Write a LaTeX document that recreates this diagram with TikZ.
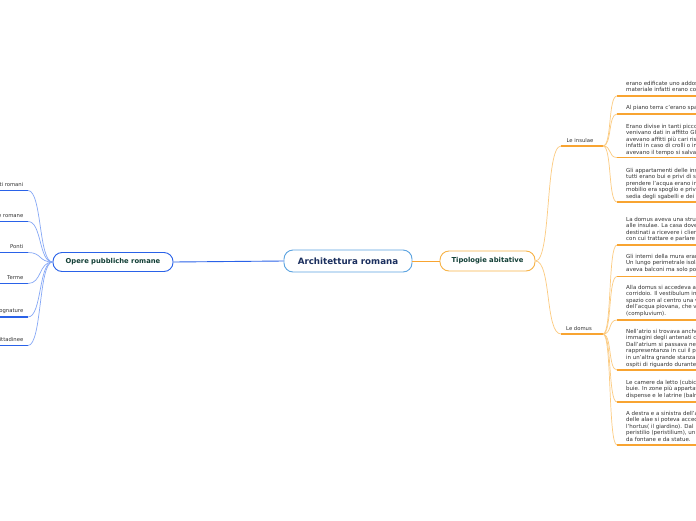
\documentclass[tikz,border=0pt]{standalone}
\usepackage{fontspec}
\setmainfont{DejaVu Sans}
\definecolor{cblue}{HTML}{5BA3E0}
\definecolor{navy}{HTML}{1B2F5E}
\definecolor{dgreen}{HTML}{123F36}
\definecolor{oblue}{HTML}{2A62E8}
\definecolor{lblue}{HTML}{86A8F6}
\definecolor{uorange}{HTML}{F8A431}
\definecolor{lorange}{HTML}{FCCB80}
\definecolor{borange}{HTML}{F7B347}
\definecolor{txt}{HTML}{333333}
\tikzset{
  cnode/.style={draw=cblue, line width=0.9pt, rounded corners=9pt, fill=white,
    minimum width=128pt, minimum height=22pt, inner sep=0pt,
    font=\fontsize{8.7}{9}\selectfont\bfseries, text=navy},
  bnode/.style={draw=oblue, line width=0.9pt, rounded corners=9pt, fill=white,
    minimum width=120pt, minimum height=19pt, inner sep=0pt,
    font=\fontsize{6.8}{7}\selectfont\bfseries, text=dgreen},
  onode/.style={draw=borange, line width=0.9pt, rounded corners=9pt, fill=white,
    minimum width=95pt, minimum height=20pt, inner sep=0pt,
    font=\fontsize{6.8}{7}\selectfont\bfseries, text=dgreen},
  lbl/.style={inner sep=0pt, font=\fontsize{5.3}{6}\selectfont, text=txt},
  blk/.style={inner sep=0pt, anchor=north west, align=left,
    font=\fontsize{5.5}{6.6}\selectfont, text=txt},
  bcurve/.style={draw=lblue, line width=0.7pt},
  bline/.style={draw=oblue, line width=1.6pt},
  ocurve/.style={draw=lorange, line width=0.7pt},
  oline/.style={draw=uorange, line width=1.6pt},
  oline2/.style={draw=uorange, line width=1.3pt},
}
\begin{document}
\begin{tikzpicture}[x=1pt,y=-1pt]
\useasboundingbox (0,0) rectangle (696,520);
\clip (0,0) rectangle (696,520);
\fill[white] (0,0) rectangle (696,520);

% main nodes
\node[cnode] (cen) at (348,261) {Architettura romana};
\node[bnode] (ope) at (113,262) {Opere pubbliche romane};
\node[onode] (tip) at (487.5,261) {Tipologie abitative};

\draw[draw=oblue, line width=0.9pt] (ope.east) -- (cen.west);
\draw[draw=uorange, line width=0.7pt] (cen.east) -- (tip.west);

% left branches
\foreach \n/\u/\t in {a/190.5/Acquedotti romani, b/221.5/Strade romane, c/252.5/Ponti, d/283.5/Terme, e/317/Fognature, f/345.5/Mura cittadinee}{
  \coordinate (L\n r) at (28,\u);
  \coordinate (L\n l) at (-5,\u);
  \draw[bline] (L\n l) -- (L\n r);
  \node[lbl, anchor=base east] (Lt\n) at (23.5,\u-4.5) {\t};
  \draw[bcurve] (ope.west) .. controls +(-14,0) and +(14,0) .. (L\n r);
}

% right: second level
\coordinate (insl) at (561,146);
\coordinate (insr) at (603,146);
\coordinate (doml) at (561,334);
\coordinate (domr) at (603,334);
\draw[oline] (insl) -- (insr);
\draw[oline] (doml) -- (domr);
\node[lbl, anchor=base] (tins) at (580,142) {Le insulae};
\node[lbl, anchor=base] (tdom) at (579,330.5) {Le domus};
\draw[ocurve] (tip.east) .. controls +(16,0) and +(-16,0) .. (insl);
\draw[ocurve] (tip.east) .. controls +(16,0) and +(-16,0) .. (doml);

% insulae children
\foreach \n/\u in {i1/96, i2/114, i3/157.5, i4/202}{
  \coordinate (\n l) at (617,\u);
  \coordinate (\n r) at (705,\u);
  \draw[oline2] (\n l) -- (\n r);
  \draw[ocurve] (insr) .. controls +(9,0) and +(-9,0) .. (\n l);
}
\foreach \n/\u in {d1/245, d2/276.5, d3/320, d4/370, d5/402, d6/445}{
  \coordinate (\n l) at (617,\u);
  \coordinate (\n r) at (705,\u);
  \draw[oline2] (\n l) -- (\n r);
  \draw[ocurve] (domr) .. controls +(9,0) and +(-9,0) .. (\n l);
}

\node[blk] (ti1) at (626,80.8) {erano edificate uno addossato all'altro\\materiale infatti erano costruite};
\node[blk] (ti2) at (626,104.8) {Al piano terra c'erano spazi};
\node[blk] (ti3) at (626,123.8) {Erano divise in tanti piccoli\\venivano dati in affitto Gli\\avevano affitti più cari rispetto\\infatti in caso di crolli o incendi\\avevano il tempo si salvarsi};
\node[blk] (ti4) at (626,167.8) {Gli appartamenti delle insulae\\tutti erano bui e privi di servizi\\prendere l'acqua erano in\\mobilio era spoglio e privo\\sedia degli sgabelli e dei letti};

\node[blk] (td1) at (626,216.8) {La domus aveva una struttura\\alle insulae. La casa doveva\\destinati a ricevere i clienti\\con cui trattare e parlare};
\node[blk] (td2) at (626,253.8) {Gli interni della mura erano\\Un lungo perimetrale isolato\\aveva balconi ma solo pochi};
\node[blk] (td3) at (626,284.8) {Alla domus si accedeva attraverso\\corridoio. Il vestibulum in\\spazio con al centro una vasca\\dell'acqua piovana, che veniva\\(compluvium).};
\node[blk] (td4) at (626,328.8) {Nell'atrio si trovava anche le\\immagini degli antenati con\\Dall'atrium si passava nel\\rappresentanza in cui il padrone\\in un'altra grande stanza,\\ospiti di riguardo durante};
\node[blk] (td5) at (626,379.8) {Le camere da letto (cubicula)\\buie. In zone più appartate\\dispense e le latrine (balnea)};
\node[blk] (td6) at (626,410.8) {A destra e a sinistra dell'atrio\\delle alae si poteva accedere\\l'hortus( il giardino). Dal\\peristilio (peristilium), un\\da fontane e da statue.};
\end{tikzpicture}
\end{document}
